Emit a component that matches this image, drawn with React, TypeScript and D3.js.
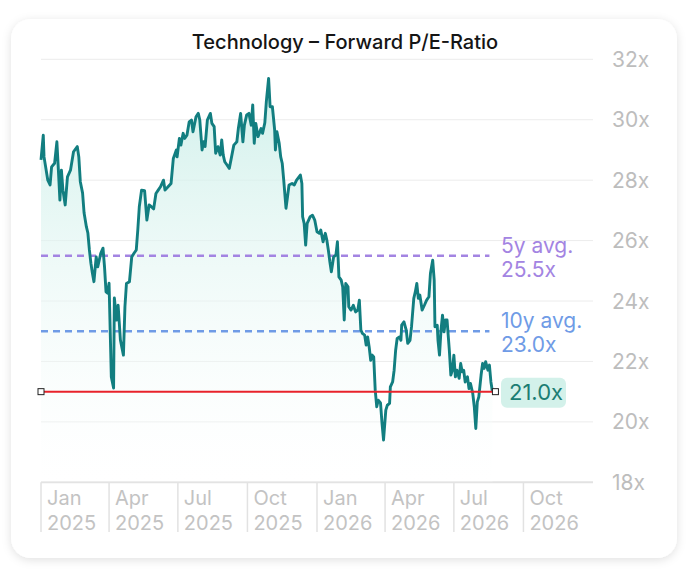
import React from "react";
import * as d3 from "d3";

const title = "Technology – Forward P/E-Ratio";
const startDate = new Date(2025, 0, 1);
const endDate = new Date(2027, 0, 1);

// days since 2025-01-01 for each observation
const dayOffsets = [
  0, 3, 4, 9, 12, 14, 18, 21, 23, 25,
  27, 29, 32, 35, 39, 43, 48, 50, 52, 55,
  57, 60, 62, 64, 66, 68, 70, 73, 75, 77,
  79, 82, 84, 86, 88, 90, 93, 96, 97, 100,
  102, 105, 109, 111, 113, 117, 120, 123, 126, 128,
  130, 133, 137, 140, 143, 146, 149, 152, 155, 158,
  162, 164, 168, 172, 175, 179, 180, 183, 185, 188,
  190, 193, 196, 199, 201, 205, 208, 210, 213, 215,
  217, 220, 224, 226, 229, 231, 234, 237, 239, 241,
  243, 246, 249, 252, 255, 259, 261, 264, 267, 269,
  272, 275, 278, 280, 282, 284, 287, 291, 293, 296,
  298, 301, 303, 306, 309, 310, 312, 315, 317, 319,
  321, 324, 326, 328, 332, 335, 338, 343, 345, 346,
  348, 350, 352, 356, 359, 362, 365, 368, 370, 373,
  376, 378, 380, 382, 384, 387, 390, 392, 394, 397,
  399, 401, 403, 406, 407, 410, 413, 416, 419, 421,
  423, 425, 428, 430, 432, 434, 436, 438, 440, 442,
  444, 446, 449, 451, 453, 456, 458, 461, 462, 465,
  467, 469, 471, 474, 476, 477, 480, 483, 485, 488,
  490, 493, 495, 497, 499, 501, 504, 507, 510, 513,
  515, 518, 520, 521, 524, 525, 527, 529, 531, 533,
  535, 537, 540, 542, 544, 546, 548, 550, 553, 555,
  557, 559, 561, 564, 566, 568, 571, 573, 575, 577,
  579, 582, 584, 586, 588, 591, 593, 595, 597,
];

const peValues = [
  28.67, 29.49, 28.77, 28.0, 27.84, 28.44, 28.56, 29.27, 28.33, 27.34,
  28.33, 27.67, 27.18, 28.11, 28.33, 28.94, 29.11, 28.77, 27.95, 27.57,
  26.91, 26.46, 26.25, 25.69, 25.25, 24.92, 24.64, 25.46, 25.13, 25.35,
  25.58, 25.75, 25.13, 24.3, 24.26, 24.59, 21.49, 21.12, 24.1, 23.37,
  23.86, 22.71, 22.21, 23.81, 24.58, 24.64, 25.46, 25.58, 25.69, 26.35,
  27.12, 27.67, 27.65, 26.68, 27.18, 27.12, 27.05, 27.56, 27.67, 27.78,
  28.0, 27.67, 27.78, 27.89, 28.72, 29.0, 28.77, 29.38, 29.16, 29.55,
  29.38, 29.49, 29.93, 29.99, 29.6, 30.1, 30.21, 29.99, 29.0, 29.27,
  29.11, 29.99, 30.21, 29.88, 29.77, 28.89, 29.11, 28.83, 29.33, 28.83,
  28.61, 28.5, 28.39, 28.77, 29.16, 29.27, 29.71, 30.21, 29.27, 29.82,
  30.16, 30.21, 29.82, 30.49, 29.22, 29.88, 29.44, 29.71, 29.55, 29.9,
  30.6, 31.37, 30.43, 30.43, 29.66, 29.0, 29.6, 29.22, 28.77, 28.56,
  28.0, 27.07, 27.45, 27.84, 27.89, 27.84, 28.0, 28.17, 27.89, 26.79,
  26.57, 25.85, 26.57, 26.79, 26.84, 26.68, 26.29, 26.24, 26.35, 25.96,
  26.24, 26.02, 25.69, 25.3, 24.97, 25.46, 25.52, 25.96, 24.8, 24.69,
  24.47, 23.37, 24.58, 24.47, 23.81, 23.7, 23.86, 23.64, 23.7, 24.03,
  23.04, 22.93, 22.87, 22.54, 22.81, 22.48, 22.04, 22.21, 22.15, 21.05,
  20.5, 20.72, 20.63, 19.95, 19.4, 20.39, 20.55, 20.61, 21.16, 21.32,
  21.71, 22.37, 22.76, 22.81, 22.7, 23.2, 23.31, 23.04, 22.6, 22.7,
  23.15, 24.09, 24.3, 24.58, 24.09, 24.2, 23.7, 23.86, 24.03, 24.14,
  24.91, 25.35, 24.69, 23.15, 23.2, 22.7, 22.21, 23.04, 23.53, 22.98,
  23.37, 23.37, 22.37, 21.55, 21.71, 22.21, 21.49, 21.71, 21.44, 21.93,
  21.66, 21.71, 21.32, 21.49, 21.1, 21.27, 20.94, 20.5, 19.78, 20.66,
  20.83, 21.55, 21.93, 21.77, 21.99, 21.71, 21.88, 21.32, 21.0,
];

const yTicks = [18, 20, 22, 24, 26, 28, 30, 32];
const xTickDates = ["2025-01-01", "2025-04-01", "2025-07-01", "2025-10-01", "2026-01-01", "2026-04-01", "2026-07-01", "2026-10-01"];
const xTickMonths = ["Jan", "Apr", "Jul", "Oct", "Jan", "Apr", "Jul", "Oct"];
const xTickYears = ["2025", "2025", "2025", "2025", "2026", "2026", "2026", "2026"];

const currentPE = 21.0;
const avg5y = 25.5;
const avg10y = 23.0;

const FONT = "Inter, 'Noto Sans', sans-serif";

export default function App() {
  const W = 686;
  const H = 575;
  const left = 41;
  const right = 593;
  const top = 59.3;
  const bottom = 482.3;

  const x = d3.scaleTime().domain([startDate, endDate]).range([left, right]);
  const y = d3.scaleLinear().domain([18, 32]).range([bottom, top]);

  const data = dayOffsets.map((d, i) => ({ date: d3.timeDay.offset(startDate, d), v: peValues[i] }));
  const lastDate = data[data.length - 1].date;

  const line = d3
    .line<{ date: Date; v: number }>()
    .x((d) => x(d.date))
    .y((d) => y(d.v));
  const area = d3
    .area<{ date: Date; v: number }>()
    .x((d) => x(d.date))
    .y0(bottom)
    .y1((d) => y(d.v));

  const xEnd = x(lastDate);
  const labelX = 501;

  return (
    <div style={{ position: "absolute", left: 0, top: 0, width: W, height: H, background: "#ffffff" }}>
      <svg width={W} height={H} style={{ display: "block" }}>
        <defs>
          <filter id="shadow" x="-10%" y="-10%" width="120%" height="120%">
            <feDropShadow dx="0" dy="2" stdDeviation="5" floodColor="#000" floodOpacity="0.12" />
          </filter>
          <linearGradient id="areaGrad" x1="0" y1={top} x2="0" y2={bottom} gradientUnits="userSpaceOnUse">
            <stop offset="0%" stopColor="#c6ede6" stopOpacity="0.9" />
            <stop offset="100%" stopColor="#ffffff" stopOpacity="0.2" />
          </linearGradient>
        </defs>
        <rect x={11} y={19} width={666} height={539} rx={20} fill="#fff" filter="url(#shadow)" />

        <text x={345} y={49} textAnchor="middle" fontFamily={FONT} fontSize={20} fontWeight={500} fill="#151515">
          {title}
        </text>

        {/* gridlines */}
        {yTicks.map((t) => (
          <line
            key={t}
            x1={left}
            x2={right}
            y1={y(t)}
            y2={y(t)}
            stroke={t === 18 ? "#e2e2e2" : "#ececec"}
            strokeWidth={t === 18 ? 2 : 1}
          />
        ))}
        {yTicks.map((t) => (
          <text key={"l" + t} x={612} y={y(t)} dy="0.36em" fontFamily={FONT} fontSize={21} fill="#bdbdbd">
            {t}x
          </text>
        ))}

        {/* x axis ticks */}
        {xTickDates.map((d, i) => {
          const xx = x(new Date(d + "T00:00:00"));
          return (
            <g key={d}>
              <line x1={xx} x2={xx} y1={bottom} y2={532} stroke="#e2e2e2" strokeWidth={1.5} />
              <text x={xx + 6} y={505} fontFamily={FONT} fontSize={20} fill="#c3c3c3">
                {xTickMonths[i]}
              </text>
              <text x={xx + 6} y={530} fontFamily={FONT} fontSize={20} fill="#c3c3c3">
                {xTickYears[i]}
              </text>
            </g>
          );
        })}

        {/* area + line */}
        <path d={area(data) || ""} fill="url(#areaGrad)" />

        {/* averages */}
        <line x1={left} x2={xEnd - 3} y1={y(avg5y)} y2={y(avg5y)} stroke="#a384e2" strokeWidth={2.5} strokeDasharray="7 5" />
        <line x1={left} x2={xEnd - 3} y1={y(avg10y)} y2={y(avg10y)} stroke="#6f9be6" strokeWidth={2.5} strokeDasharray="7 5" />

        <path d={line(data) || ""} fill="none" stroke="#127e80" strokeWidth={2.9} strokeLinejoin="round" />

        {/* current */}
        <line x1={left} x2={xEnd + 3} y1={y(currentPE)} y2={y(currentPE)} stroke="#e8232b" strokeWidth={2} />
        <rect x={left - 3} y={y(currentPE) - 3} width={6} height={6} fill="#fff" stroke="#222" strokeWidth={1} />
        <rect x={xEnd + 3 - 3} y={y(currentPE) - 3} width={6} height={6} fill="#fff" stroke="#222" strokeWidth={1} />

        <text fontFamily={FONT} fontSize={21} fill="#a384e2">
          <tspan x={labelX} y={y(avg5y) - 3}>5y avg.</tspan>
          <tspan x={labelX} y={y(avg5y) + 21}>{avg5y.toFixed(1)}x</tspan>
        </text>
        <text fontFamily={FONT} fontSize={21} fill="#6f9be6">
          <tspan x={labelX} y={y(avg10y) - 3}>10y avg.</tspan>
          <tspan x={labelX} y={y(avg10y) + 21}>{avg10y.toFixed(1)}x</tspan>
        </text>

        <rect x={labelX} y={y(currentPE) - 14} width={65} height={30} rx={6} fill="#d3f1ea" />
        <text x={labelX + 8} y={y(currentPE)} dy="0.36em" fontFamily={FONT} fontSize={22} fill="#1b7d73">
          {currentPE.toFixed(1)}x
        </text>
      </svg>
    </div>
  );
}
